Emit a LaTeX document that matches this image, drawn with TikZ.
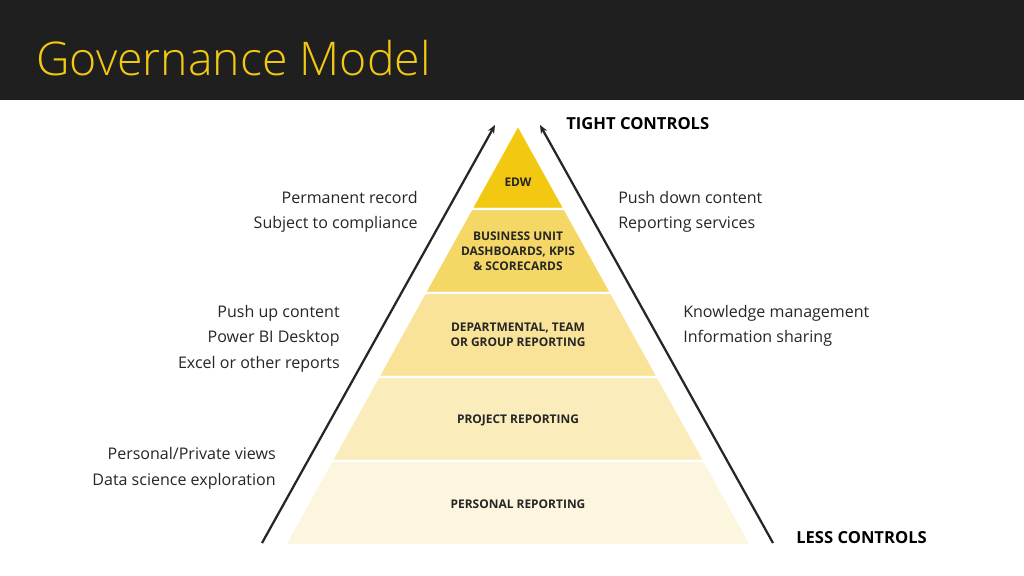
\documentclass[tikz,border=0pt]{standalone}
\usepackage{fontspec}
\setmainfont{Open Sans}
\newfontfamily\titlefont{Open Sans Light}
\usetikzlibrary{arrows.meta}
\definecolor{headbg}{HTML}{1F1F1F}
\definecolor{titleyellow}{HTML}{F2C811}
\definecolor{inktext}{HTML}{262626}
\definecolor{bandA}{HTML}{F2C811}
\definecolor{bandB}{HTML}{F5D766}
\definecolor{bandC}{HTML}{F8E399}
\definecolor{bandD}{HTML}{FAEDBB}
\definecolor{bandE}{HTML}{FCF6DE}
\tikzset{
  band/.style={font=\bfseries\fontsize{8.5}{10.7}\selectfont, text=inktext, align=center, inner sep=0pt},
  side/.style={font=\fontsize{11.4}{17.8}\selectfont, text=inktext, inner sep=0pt},
  ctrl/.style={font=\bfseries\fontsize{11.8}{13}\selectfont, text=black, inner sep=0pt, anchor=base west},
  ctrlarrow/.style={draw=inktext, line width=1.6pt, -{Stealth[length=6pt,width=5pt]}}
}
\begin{document}
\begin{tikzpicture}[x=0.025cm,y=-0.025cm]
\useasboundingbox (0,0) rectangle (1024,576);
\fill[white] (0,0) rectangle (1024,576);
\fill[headbg] (0,0) rectangle (1024,100);
\node[anchor=base west, inner sep=0pt, text=titleyellow, font=\titlefont\fontsize{33}{40}\selectfont] (title) at (36,76) {Governance Model};

% pyramid bands
\foreach \i/\col in {0/bandA,1/bandB,2/bandC,3/bandD,4/bandE}
{
	\pgfmathsetmacro\yt{125+84*\i}
	\pgfmathsetmacro\yb{\yt+84}
	\pgfmathsetmacro\wt{0.555*84*\i}
	\pgfmathsetmacro\wb{\wt+0.555*84}
	\filldraw[fill=\col,draw=white,line width=1.5pt] (518-\wt,\yt) -- (518+\wt,\yt) -- (518+\wb,\yb) -- (518-\wb,\yb) -- cycle;
}
\node[band] (edw) at (518,182) {EDW};
\node[band] (bu) at (518,251) {BUSINESS UNIT\\DASHBOARDS, KPIS\\\& SCORECARDS};
\node[band] (dept) at (518,335) {DEPARTMENTAL, TEAM\\OR GROUP REPORTING};
\node[band] (proj) at (518,420) {PROJECT REPORTING};
\node[band] (pers) at (518,504) {PERSONAL REPORTING};

\coordinate (lb) at (262,543);
\coordinate (lt) at (495,125);
\coordinate (rb) at (773,543);
\coordinate (rt) at (540,125);
\draw[ctrlarrow] (lb) -- (lt);
\draw[ctrlarrow] (rb) -- (rt);

\node[ctrl] (tight) at (566,130) {TIGHT CONTROLS};
\node[ctrl] (less) at (796,543) {LESS CONTROLS};

\node[side, anchor=base east, align=right] (permanent) at (418,229) {Permanent record\\Subject to compliance};
\node[side, anchor=base west, align=left] (pushdown) at (618,229) {Push down content\\Reporting services};
\node[side, anchor=base east, align=right] (pushup) at (340,368) {Push up content\\Power BI Desktop\\Excel or other reports};
\node[side, anchor=base west, align=left] (knowledge) at (683,343) {Knowledge management\\Information sharing};
\node[side, anchor=base east, align=right] (personal) at (276,485) {Personal/Private views\\Data science exploration};
\end{tikzpicture}
\end{document}
